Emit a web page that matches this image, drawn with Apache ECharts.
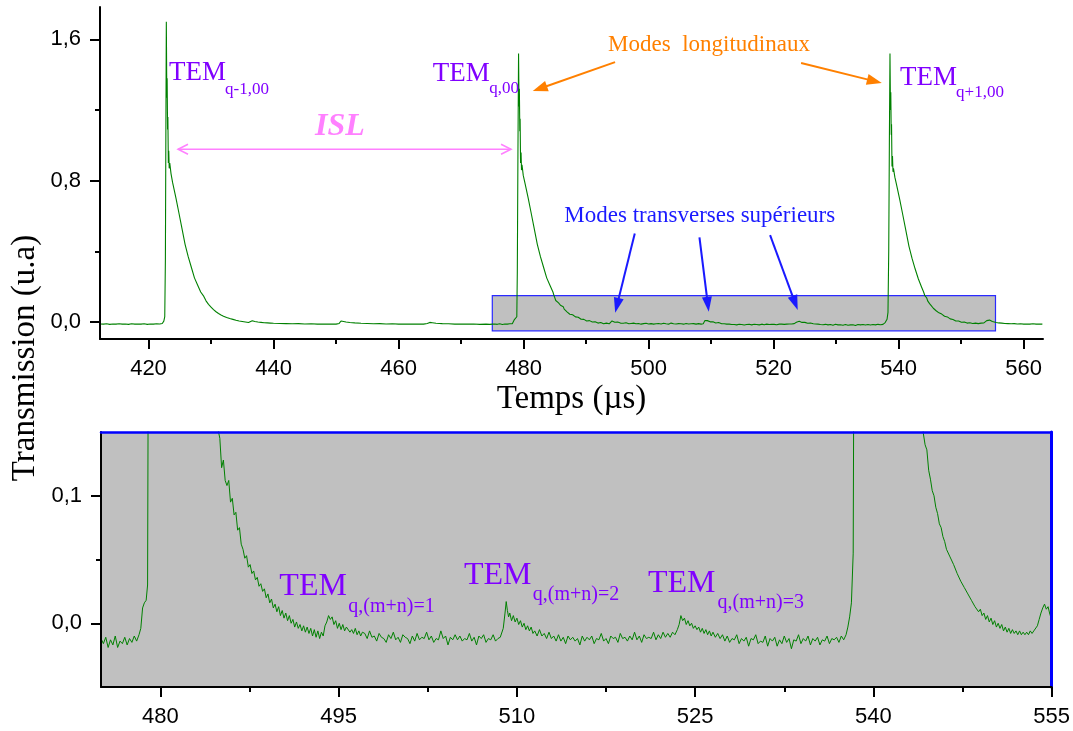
<!DOCTYPE html>
<html><head><meta charset="utf-8">
<script src="https://cdn.jsdelivr.net/npm/echarts@6/dist/echarts.min.js"></script>
<style>html,body{margin:0;padding:0;background:#fff}#c{width:1073px;height:731px}</style>
</head><body><div id="c"></div><script>
// ---- signal: [time (µs), transmission (u.a)] ----
const baseA = [[412.3,-.011],[412.8,-.012],[413.3,-.010],[413.8,-.013],[414.3,-.011],[414.8,-.012],[415.3,-.010],[415.8,-.012],[416.3,-.011],[416.8,-.013],[417.3,-.010],[417.8,-.012],[418.3,-.011],[418.8,-.012],[419.3,-.010],[419.8,-.013],[420.3,-.011],[420.8,-.012],[421.3,-.010],[421.8,-.011],[422.2,-.008],[422.45,.005]];
const modeQm1 = [[422.6,.03],[422.7,.35],[422.78,1.1],[422.85,1.70],[422.93,1.27],[422.98,1.38],[423.05,1.09],[423.1,1.16],[423.17,.90],[423.24,.97],[423.31,.87],[423.4,.90],[423.6,.84],[423.85,.79],[424.1,.75],[424.4,.70],[424.85,.62],[425.35,.53],[425.85,.44],[426.35,.37],[426.85,.31],[427.35,.25],[427.85,.21],[428.35,.17],[428.85,.145],[429.2,.12],[429.6,.10],[430.0,.085],[430.4,.07],[430.8,.058],[431.2,.048],[431.6,.04],[432.0,.033],[432.5,.026],[433.0,.02],[433.5,.015],[434.0,.01],[434.5,.006],[435.0,.003],[435.5,.0],[436.0,-.003],[436.3,.004],[436.6,.007],[437.0,.003],[437.5,.0],[438.0,-.002],[438.5,-.004],[439.0,-.005],[439.5,-.006]];
const baseB = [[440.0,-.007],[441.0,-.008],[442.0,-.009],[443.0,-.010],[444.0,-.009],[445.0,-.011],[446.0,-.010],[447.0,-.012],[448.0,-.011],[449.0,-.012],[450.0,-.012],[450.5,-.008],[450.8,.006],[451.1,.004],[451.6,.0],[452.2,-.003],[453.0,-.005],[454.0,-.007],[455.0,-.008],[456.0,-.010],[457.0,-.009],[458.0,-.011],[459.0,-.010],[460.0,-.012],[461.0,-.011],[462.0,-.012],[463.0,-.011],[464.0,-.012],[464.6,-.008],[465.0,-.002],[465.4,-.004],[466.0,-.007],[467.0,-.009],[468.0,-.010],[469.0,-.012],[470.0,-.011],[471.0,-.012],[472.0,-.011],[473.0,-.013],[474.0,-.012],[474.6,-.013]];
const baseC = [[475.0,-.012],[475.2,-.016],[475.4,-.011],[475.6,-.019],[475.8,-.013],[476.0,-.017],[476.2,-.010],[476.4,-.019],[476.6,-.014],[476.8,-.016],[477.0,-.011],[477.2,-.017],[477.4,-.012],[477.6,-.015],[477.8,-.010],[478.0,-.014],[478.2,-.009],[478.35,-.004],[478.5,.012],[478.65,.016],[478.8,.018]];
const modeQ = [[478.92,.03],[479.0,.28],[479.1,.95],[479.2,1.52],[479.28,1.22],[479.33,1.32],[479.4,1.08],[479.45,1.15],[479.52,.90],[479.6,.96],[479.67,.86],[479.75,.89],[479.95,.83],[480.2,.79],[480.45,.75],[480.75,.70],[481.2,.62],[481.7,.53],[482.2,.44],[482.7,.37],[483.2,.31],[483.7,.25],[484.2,.21],[484.7,.17],[484.85,.152],[485.0,.145],[485.15,.122],[485.3,.128],[485.45,.112],[485.6,.108],[485.75,.112],[485.9,.095],[486.05,.098],[486.2,.085],[486.35,.087],[486.5,.073],[486.65,.075],[486.8,.062],[486.95,.058],[487.1,.051],[487.25,.053],[487.4,.044],[487.55,.046],[487.7,.039],[487.85,.041],[488.0,.034],[488.15,.036],[488.3,.029],[488.45,.031],[488.6,.025],[488.75,.027],[488.9,.020],[489.05,.023],[489.2,.016],[489.35,.019],[489.5,.012],[489.65,.015],[489.8,.009],[489.95,.013],[490.1,.006],[490.25,.010],[490.4,.004],[490.55,.008],[490.7,.002],[490.85,.006],[491.0,.000],[491.15,.003],[491.3,-.003],[491.45,.001],[491.6,-.004],[491.75,-.001],[491.9,-.006],[492.05,-.002],[492.2,-.007],[492.35,-.003],[492.5,-.008],[492.65,-.004],[492.8,-.010],[492.95,-.005],[493.1,-.011],[493.25,-.006],[493.4,-.012],[493.55,-.007],[493.7,-.010]];
const tem1 = [[493.85,-.002],[494.0,.001],[494.15,.006],[494.3,.003],[494.45,.005],[494.6,-.001],[494.75,.002],[494.9,-.004],[495.05,.000],[495.2,-.005],[495.35,-.001],[495.5,-.006],[495.65,-.003],[495.8,-.004],[495.95,-.007],[496.1,-.005],[496.25,-.008],[496.4,-.004],[496.55,-.009],[496.7,-.006],[496.85,-.010],[497.0,-.007]];
const baseD = [[497.2,-.008],[497.4,-.012],[497.6,-.006],[497.8,-.011],[498.0,-.010],[498.2,-.014],[498.4,-.008],[498.6,-.011],[498.8,-.012],[499.0,-.015],[499.2,-.009],[499.4,-.012],[499.6,-.007],[499.8,-.013],[500.0,-.011],[500.2,-.015],[500.4,-.009],[500.6,-.011],[500.8,-.012],[501.0,-.016],[501.2,-.010],[501.4,-.014],[501.6,-.008],[501.8,-.013],[502.0,-.011],[502.2,-.012],[502.4,-.007],[502.6,-.013],[502.8,-.010],[503.0,-.015],[503.2,-.012],[503.4,-.013],[503.6,-.006],[503.8,-.012],[504.0,-.010],[504.2,-.017],[504.4,-.011],[504.6,-.013],[504.8,-.009],[505.0,-.013],[505.2,-.010],[505.4,-.014],[505.6,-.012],[505.8,-.013],[506.0,-.008],[506.2,-.014],[506.4,-.011],[506.6,-.017],[506.8,-.010],[507.0,-.012],[507.2,-.009],[507.4,-.015],[507.6,-.012],[507.8,-.013],[508.0,-.009],[508.2,-.014],[508.4,-.012],[508.6,-.011]];
const tem2 = [[508.75,-.010],[508.85,-.004],[509.0,.008],[509.1,.017],[509.2,.010],[509.3,.005],[509.4,.008],[509.55,.002],[509.7,.006],[509.85,.001],[510.0,.004],[510.15,-.001],[510.3,.002],[510.45,-.003],[510.6,.000],[510.75,-.005],[510.9,-.002],[511.05,-.006],[511.2,-.003],[511.35,-.008]];
const baseE = [[511.5,-.006],[511.7,-.010],[511.9,-.005],[512.1,-.010],[512.3,-.008],[512.5,-.012],[512.7,-.007],[512.9,-.012],[513.1,-.010],[513.3,-.014],[513.5,-.009],[513.7,-.014],[513.9,-.011],[514.1,-.016],[514.3,-.010],[514.5,-.013],[514.7,-.011],[514.9,-.014],[515.1,-.012],[515.3,-.017],[515.5,-.010],[515.7,-.014],[515.9,-.011],[516.1,-.013],[516.3,-.010],[516.5,-.016],[516.7,-.012],[516.9,-.013],[517.1,-.008],[517.3,-.014],[517.5,-.012],[517.7,-.016],[517.9,-.010],[518.1,-.012],[518.3,-.011],[518.5,-.015],[518.7,-.008],[518.9,-.012],[519.1,-.011],[519.3,-.014],[519.5,-.010],[519.7,-.013],[519.9,-.007],[520.1,-.013],[520.3,-.010],[520.5,-.015],[520.7,-.009],[520.9,-.012],[521.1,-.011],[521.3,-.012],[521.5,-.007],[521.7,-.013],[521.9,-.009],[522.1,-.012],[522.3,-.007],[522.5,-.011],[522.7,-.008],[522.9,-.011],[523.1,-.007],[523.3,-.009]];
const tem3 = [[523.5,-.005],[523.65,-.001],[523.8,.006],[523.95,.002],[524.1,.004],[524.25,-.001],[524.4,.002],[524.55,-.002],[524.7,.000],[524.85,-.004],[525.0,-.002],[525.15,-.005],[525.3,-.003],[525.45,-.007],[525.6,-.004],[525.75,-.008],[525.9,-.005],[526.05,-.009],[526.2,-.006],[526.35,-.010],[526.5,-.007],[526.7,-.011],[526.9,-.008],[527.1,-.012]];
const baseF = [[527.3,-.009],[527.5,-.014],[527.7,-.010],[527.9,-.015],[528.1,-.012],[528.3,-.013],[528.5,-.009],[528.7,-.016],[528.9,-.012],[529.1,-.014],[529.3,-.011],[529.5,-.018],[529.7,-.012],[529.9,-.013],[530.1,-.009],[530.3,-.016],[530.5,-.014],[530.7,-.015],[530.9,-.010],[531.1,-.018],[531.3,-.012],[531.5,-.014],[531.7,-.011],[531.9,-.018],[532.1,-.013],[532.3,-.016],[532.5,-.010],[532.7,-.015],[532.9,-.012],[533.1,-.020],[533.3,-.013],[533.5,-.014],[533.7,-.009],[533.9,-.016],[534.1,-.012],[534.3,-.014],[534.5,-.010],[534.7,-.017],[534.9,-.012],[535.1,-.014],[535.3,-.011],[535.5,-.017],[535.7,-.013],[535.9,-.014],[536.1,-.010],[536.3,-.016],[536.5,-.012],[536.7,-.013],[536.9,-.011],[537.1,-.015],[537.3,-.010],[537.5,-.013],[537.7,-.009]];
const modeQp1 = [[537.85,-.003],[538.0,.005],[538.15,.016],[538.3,.055],[538.42,.4],[538.52,1.0],[538.62,1.52],[538.7,1.2],[538.75,1.3],[538.82,1.06],[538.87,1.12],[538.94,.88],[539.02,.94],[539.1,.85],[539.18,.87],[539.4,.82],[539.65,.78],[539.9,.74],[540.2,.69],[540.65,.61],[541.15,.52],[541.65,.43],[542.15,.36],[542.65,.30],[543.15,.245],[543.65,.20],[544.0,.17],[544.2,.149],[544.35,.14],[544.5,.136],[544.65,.12],[544.8,.113],[544.95,.104],[545.1,.100],[545.25,.091],[545.4,.086],[545.55,.078],[545.7,.075],[545.85,.068],[546.0,.064],[546.15,.058],[546.3,.059],[546.45,.052],[546.6,.053],[546.75,.046],[546.9,.045],[547.05,.039],[547.2,.040],[547.35,.033],[547.5,.034],[547.65,.028],[547.8,.029],[547.95,.023],[548.1,.024],[548.25,.018],[548.4,.017],[548.55,.013],[548.7,.014],[548.85,.009],[549.0,.011],[549.15,.006],[549.3,.008],[549.45,.003],[549.6,.006],[549.75,.001],[549.9,.004],[550.05,-.001],[550.2,.002],[550.35,-.003],[550.5,.000],[550.65,-.004],[550.8,-.001],[550.95,-.006],[551.1,-.003],[551.25,-.007],[551.4,-.004],[551.55,-.008],[551.7,-.005],[551.85,-.008],[552.0,-.006],[552.15,-.009],[552.3,-.006],[552.45,-.009],[552.6,-.007],[552.75,-.009],[552.9,-.007],[553.05,-.009],[553.2,-.006],[553.35,-.008],[553.5,-.006],[553.65,-.005],[553.8,-.002],[553.95,.003],[554.1,.008],[554.25,.012],[554.4,.015],[554.55,.011],[554.7,.013],[554.85,.007],[555.0,.003]];
const baseG = [[555.15,.001],[555.3,-.001],[555.6,-.003],[556.0,-.005],[556.5,-.006],[557.0,-.008],[557.5,-.009],[558.0,-.010],[558.5,-.009],[559.0,-.011],[559.5,-.010],[560.0,-.012],[560.5,-.011],[561.0,-.012],[561.5,-.010],[562.0,-.012],[562.5,-.011],[563.0,-.012]];

// ---- axes ticks ----
const topXMajor = [420,440,460,480,500,520,540,560];
const topXMinor = [430,450,470,490,510,530,550];
const topYMajor = [0,0.8,1.6];
const topYMinor = [0.4,1.2];
const botXMajor = [480,495,510,525,540,555];
const botXMinor = [487.5,502.5,517.5,532.5,547.5];
const botYMajor = [0,0.1];
const botYMinor = [0.05];
const zoomWindow = [[475,-0.05],[555.5,0.15]];

const signal = [].concat(baseA, modeQm1, baseB, baseC, modeQ, tem1, baseD, tem2, baseE, tem3, baseF, modeQp1, baseG);

const chart = echarts.init(document.getElementById('c'), null, {renderer:'canvas'});
const comma = v => v.toFixed(1).replace('.', ',');
const labelStyle = {fontFamily:'Liberation Sans, Arial, sans-serif', fontSize:22, color:'#000'};
function xAxisPair(grid, min, max, major, minor, extra){
  const a = Object.assign({gridIndex:grid, type:'value', min, max, position:'bottom', z:10,
    axisLine:{show:true, onZero:false, lineStyle:{color:'#000', width:2}},
    axisTick:{show:true, length:10, customValues:major, lineStyle:{color:'#000', width:2}},
    axisLabel:Object.assign({customValues:major, margin:19, formatter:v=>String(Math.round(v))}, labelStyle),
    splitLine:{show:false}}, extra||{});
  const b = {gridIndex:grid, type:'value', min, max, position:'bottom', z:10,
    axisLine:{show:false, onZero:false},
    axisTick:{show:true, length:5, customValues:minor, lineStyle:{color:'#000', width:2}},
    axisLabel:{show:false}, splitLine:{show:false}};
  return [a,b];
}
function yAxisPair(grid, min, max, major, minor){
  const a = {gridIndex:grid, type:'value', min, max, position:'left', z:10,
    axisLine:{show:true, onZero:false, lineStyle:{color:'#000', width:2}},
    axisTick:{show:true, length:10, customValues:major, lineStyle:{color:'#000', width:2}},
    axisLabel:Object.assign({customValues:major, margin:19, formatter:comma}, labelStyle),
    splitLine:{show:false}};
  const b = {gridIndex:grid, type:'value', min, max, position:'left', z:10,
    axisLine:{show:false, onZero:false},
    axisTick:{show:true, length:5, customValues:minor, lineStyle:{color:'#000', width:2}},
    axisLabel:{show:false}, splitLine:{show:false}};
  return [a,b];
}
// blue frame (top / right) of the zoomed panel
const blueX = {gridIndex:1, type:'value', min:475, max:555, position:'top', z:10,
  axisLine:{show:true, onZero:false, lineStyle:{color:'#0000ff', width:2.5}},
  axisTick:{show:false}, axisLabel:{show:false}, splitLine:{show:false}};
const blueY = {gridIndex:1, type:'value', min:-0.05, max:0.15, position:'right', z:10,
  axisLine:{show:true, onZero:false, lineStyle:{color:'#0000ff', width:3}},
  axisTick:{show:false}, axisLabel:{show:false}, splitLine:{show:false}};

const option = {
  animation:false,
  backgroundColor:'#fff',
  grid:[
    {left:100, top:7, width:943, height:332, show:false},
    {left:101, top:432, width:951, height:255, show:true, backgroundColor:'#c0c0c0', borderWidth:0, borderColor:'transparent'}
  ],
  xAxis:[].concat(
    xAxisPair(0, 412.24, 563.1, topXMajor, topXMinor, {name:'Temps (µs)', nameLocation:'middle', nameGap:44,
      nameTextStyle:{fontFamily:'Liberation Serif, serif', fontSize:33, color:'#000'}}),
    xAxisPair(1, 475, 555, botXMajor, botXMinor),
    [blueX]
  ),
  yAxis:[].concat(
    yAxisPair(0, -0.096, 1.783, topYMajor, topYMinor),
    yAxisPair(1, -0.05, 0.15, botYMajor, botYMinor),
    [blueY]
  ),
  series:[
    {type:'line', xAxisIndex:0, yAxisIndex:0, data:signal, showSymbol:false, symbol:'none',
     lineStyle:{color:'#008000', width:1.1}, z:5, silent:true,
     markArea:{silent:true, itemStyle:{color:'#c0c0c0', borderColor:'#2a2aff', borderWidth:1.2, opacity:1},
       data:[[{coord:zoomWindow[0]},{coord:zoomWindow[1]}]]}},
    {type:'line', xAxisIndex:2, yAxisIndex:2, data:signal, showSymbol:false, symbol:'none', clip:true,
     lineStyle:{color:'#008000', width:1}, z:5, silent:true}
  ]
};
chart.setOption(option);

// ---- annotations, anchored in data coordinates ----
const topLabels = [
  {text:'TEM', sub:'q-1,00', pos:[423.28,1.41], subPos:[432.24,1.317]},
  {text:'TEM', sub:'q,00', pos:[465.47,1.403], subPos:[474.53,1.323]},
  {text:'TEM', sub:'q+1,00', pos:[540.24,1.383], subPos:[549.2,1.297]}
];
const bottomLabels = [
  {text:'TEM', sub:'q,(m+n)=1', pos:[490.01,0.0285], subPos:[495.81,0.013]},
  {text:'TEM', sub:'q,(m+n)=2', pos:[505.55,0.0375], subPos:[511.34,0.0227]},
  {text:'TEM', sub:'q,(m+n)=3', pos:[521.03,0.031], subPos:[526.89,0.0162]}
];
const longText = {text:'Modes  longitudinaux', pos:[493.52,1.571]};
const longArrows = [[[494.64,1.471],[481.47,1.307]], [[524.4,1.466],[537.31,1.353]]];
const islText = {text:'ISL', pos:[446.64,1.108]};
const islArrow = [[424.72,0.978],[478.0,0.978]];
const transText = {text:'Modes transverses supérieurs', pos:[486.53,0.598]};
const transArrows = [[[497.79,0.501],[494.66,0.053]], [[508.14,0.479],[509.63,0.058]], [[519.44,0.492],[523.86,0.068]]];

const P0 = v => chart.convertToPixel({seriesIndex:0}, v);
const P1 = v => chart.convertToPixel({seriesIndex:1}, v);
const g = [];
function txt(p, text, font, fill){
  g.push({type:'text', x:p[0], y:p[1], silent:true, z:100,
    style:{text, font, fill, align:'left', verticalAlign:'middle'}});
}
function arrow(a, b, color, w, L, W){
  const dx=b[0]-a[0], dy=b[1]-a[1], len=Math.hypot(dx,dy), ux=dx/len, uy=dy/len;
  const bx=b[0]-ux*L, by=b[1]-uy*L, nx=-uy, ny=ux;
  g.push({type:'line', silent:true, z:100, shape:{x1:a[0],y1:a[1],x2:bx+ux*2,y2:by+uy*2}, style:{stroke:color, lineWidth:w}});
  g.push({type:'polygon', silent:true, z:100, shape:{points:[[b[0],b[1]],[bx+nx*W/2,by+ny*W/2],[bx-nx*W/2,by-ny*W/2]]}, style:{fill:color}});
}
function openHead(tip, ux, uy, color, L, W){
  const bx=tip[0]-ux*L, by=tip[1]-uy*L, nx=-uy, ny=ux;
  g.push({type:'polyline', silent:true, z:100, shape:{points:[[bx+nx*W,by+ny*W],[tip[0],tip[1]],[bx-nx*W,by-ny*W]]}, style:{stroke:color, lineWidth:1.5, fill:null}});
}
const purple = '#8000ff';
topLabels.forEach(l => { txt(P0(l.pos), l.text, '27px "Liberation Serif"', purple); txt(P0(l.subPos), l.sub, '17px "Liberation Serif"', purple); });
bottomLabels.forEach(l => { txt(P1(l.pos), l.text, '32px "Liberation Serif"', purple); txt(P1(l.subPos), l.sub, '20px "Liberation Serif"', purple); });
txt(P0(longText.pos), longText.text, '23px "Liberation Serif"', '#ff8000');
longArrows.forEach(a => arrow(P0(a[0]), P0(a[1]), '#ff8000', 2, 15, 11));
txt(P0(islText.pos), islText.text, 'italic bold 32px "Liberation Serif"', '#ff80ff');
(function(){
  const a=P0(islArrow[0]), b=P0(islArrow[1]);
  g.push({type:'line', silent:true, z:100, shape:{x1:a[0],y1:a[1],x2:b[0],y2:b[1]}, style:{stroke:'#ff80ff', lineWidth:1.5}});
  openHead(b, 1, 0, '#ff80ff', 10, 5);
  openHead(a, -1, 0, '#ff80ff', 10, 5);
})();
txt(P0(transText.pos), transText.text, '23px "Liberation Serif"', '#1a1aff');
transArrows.forEach(a => arrow(P0(a[0]), P0(a[1]), '#1a1aff', 2, 15, 10));
g.push({type:'text', x:25, y:358, rotation:Math.PI/2, silent:true, z:100,
  style:{text:'Transmission (u.a)', font:'33px "Liberation Serif"', fill:'#000', align:'center', verticalAlign:'middle'}});
chart.setOption({graphic:{elements:g}});
</script></body></html>
